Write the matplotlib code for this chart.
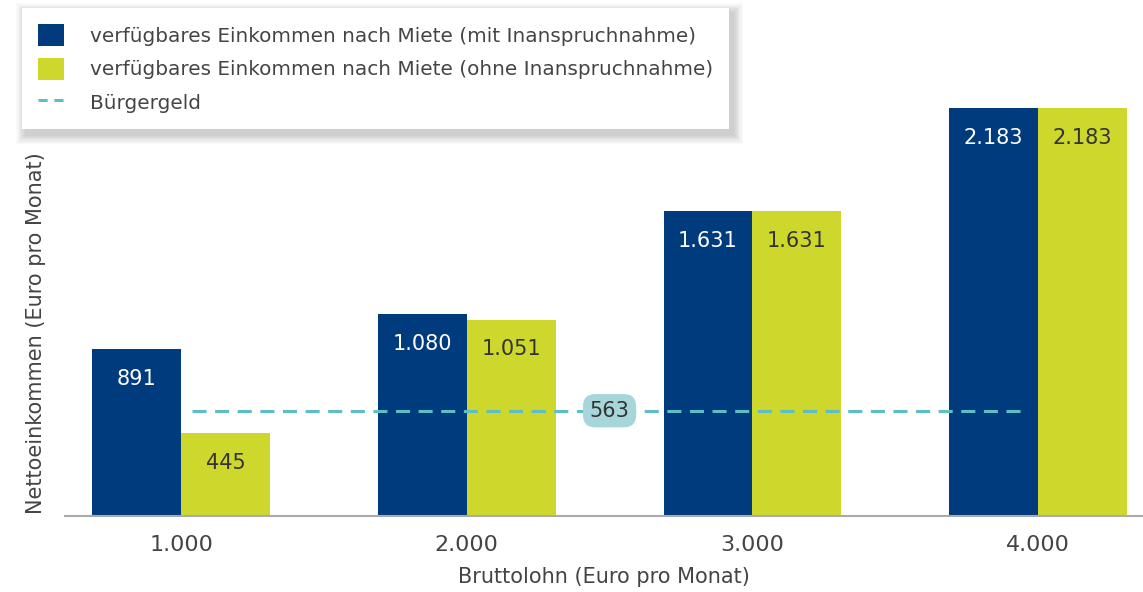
import matplotlib
matplotlib.use("Agg")
import matplotlib.pyplot as plt
from matplotlib.lines import Line2D
from matplotlib.patches import Patch, Rectangle
import numpy as np

# data
brutto = ["1.000", "2.000", "3.000", "4.000"]
mit = [891, 1080, 1631, 2183]
ohne = [445, 1051, 1631, 2183]
buergergeld = 563

dark = "#003b7e"
lime = "#cdd72c"
teal = "#5dbfc4"
grey = "#444444"

plt.rcParams["font.family"] = ["DejaVu Sans"]

fig = plt.figure(figsize=(11.43, 5.92), dpi=100)
ax = fig.add_axes([65 / 1143, 76 / 592, 1 - 65 / 1143, 516 / 592])

x = np.arange(len(brutto))
w = 0.311
ax.bar(x - w / 2, mit, w, color=dark, zorder=2)
ax.bar(x + w / 2, ohne, w, color=lime, zorder=2)

for xi, v in zip(x, mit):
    ax.text(xi - w / 2, v - 160, f"{v:,}".replace(",", "."), ha="center", va="center",
            color="white", fontsize=15, zorder=4)
for xi, v in zip(x, ohne):
    ax.text(xi + w / 2, v - 160, f"{v:,}".replace(",", "."), ha="center", va="center",
            color="#333333", fontsize=15, zorder=4)

ax.hlines(buergergeld, 0.04, 2.965, colors=teal, linestyles=(0, (4.6, 2.8)),
          linewidth=2.2, zorder=3)
ax.text(1.5, buergergeld, str(buergergeld), ha="center", va="center", fontsize=15,
        color="#333333", zorder=5,
        bbox=dict(boxstyle="round,pad=0.32,rounding_size=0.6", facecolor="#a6d6da",
                  edgecolor="none"))

ax.set_xlim(-0.406, 3.367)
ax.set_ylim(0, 2760)
ax.set_xticks(x)
ax.set_xticklabels(brutto, fontsize=16, color=grey)
ax.set_yticks([])
ax.tick_params(axis="x", length=0, pad=14)
for s in ["top", "right", "left"]:
    ax.spines[s].set_visible(False)
ax.spines["bottom"].set_color("#aaaaaa")
ax.spines["bottom"].set_linewidth(1.5)

ax.set_xlabel("Bruttolohn (Euro pro Monat)", fontsize=15, color=grey, labelpad=8)
ax.set_ylabel("Nettoeinkommen (Euro pro Monat)", fontsize=15, color=grey)
ax.yaxis.set_label_coords(-0.018, 0.355)

handles = [
    Patch(facecolor=dark, edgecolor="none"),
    Patch(facecolor=lime, edgecolor="none"),
    Line2D([0], [0], color=teal, linestyle=(0, (3, 2.2)), linewidth=2.2),
]
labels = [
    "verfügbares Einkommen nach Miete (mit Inanspruchnahme)",
    "verfügbares Einkommen nach Miete (ohne Inanspruchnahme)",
    "Bürgergeld",
]
leg = fig.legend(handles, labels, loc="upper left", bbox_to_anchor=(22 / 1143, 1 - 8 / 592),
                 frameon=True, fancybox=False, shadow=False, fontsize=14.4, framealpha=1,
                 handlelength=1.3, handleheight=1.3, handletextpad=1.3, labelspacing=0.6,
                 borderpad=0.8, borderaxespad=0)
leg.get_frame().set_edgecolor("none")
leg.get_frame().set_facecolor("white")
leg.set_zorder(10)
for t in leg.get_texts():
    t.set_color(grey)

# soft shadow under the legend box
fig.canvas.draw()
bb = leg.get_window_extent().transformed(fig.transFigure.inverted())
for i in range(8):
    d = (i + 1) * 1.2
    fig.patches.append(Rectangle((bb.x0 - d / 1143 + 4 / 1143, bb.y0 - d / 592 - 5 / 592),
                                 bb.width + 2 * d / 1143, bb.height + 2 * d / 592,
                                 transform=fig.transFigure, facecolor="black",
                                 edgecolor="none", alpha=0.025, zorder=9))

fig.savefig("out.png", dpi=100)
